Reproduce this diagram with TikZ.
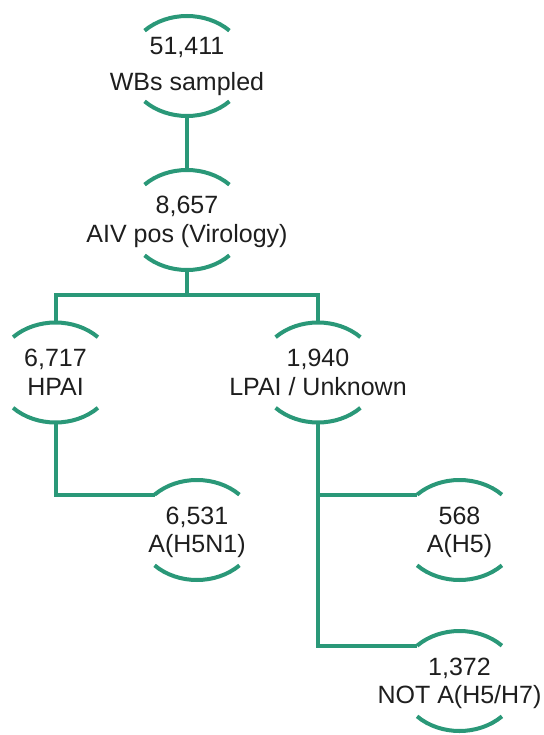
\documentclass[tikz,border=0pt]{standalone}
\usepackage{fontspec}
\setmainfont{Liberation Sans}
\usetikzlibrary{shapes.geometric,calc}
\definecolor{flowgreen}{RGB}{42,152,120}
\definecolor{inkgray}{RGB}{30,30,30}
\tikzset{
  blob/.style={ellipse, minimum width=120pt, minimum height=100pt, inner sep=0pt, outer sep=0pt, draw=none},
  arcline/.style={draw=flowgreen, line width=4pt},
  link/.style={draw=flowgreen, line width=4pt},
  lbl/.style={anchor=base, inner sep=0pt, text=inkgray, font=\fontsize{25}{30}\selectfont},
}
\newcommand\flowblob[7]{%
  \node[blob] (#1) at (#2,#3) {};
  \draw[arcline] ($(#1.center)+(135:60pt and 50pt)$) arc[start angle=135, end angle=45, x radius=60pt, y radius=50pt];
  \draw[arcline] ($(#1.center)+(225:60pt and 50pt)$) arc[start angle=225, end angle=315, x radius=60pt, y radius=50pt];
  \node[lbl] (#1-a) at ([yshift=#6]#1.center) {#4};
  \node[lbl] (#1-b) at ([yshift=#7]#1.center) {#5};
}
\begin{document}
\begin{tikzpicture}[x=1pt,y=-1pt]
\useasboundingbox (0,0) rectangle (543,735);
\flowblob{n1}{187}{66}{51,411}{WBs sampled}{11pt}{-25pt}
\flowblob{n2}{187}{220}{8,657}{AIV pos (Virology)}{6pt}{-22.5pt}
\flowblob{n3}{55.5}{372.5}{6,717}{HPAI}{6pt}{-22.5pt}
\flowblob{n4}{318}{372.5}{1,940}{LPAI / Unknown}{6pt}{-22.5pt}
\flowblob{n5}{197}{530}{6,531}{A(H5N1)}{6pt}{-22.5pt}
\flowblob{n6}{459.5}{530}{568}{A(H5)}{6pt}{-22.5pt}
\flowblob{n7}{459.5}{681}{1,372}{NOT A(H5/H7)}{6pt}{-22.5pt}
\coordinate (bus) at (187,294.5);
\coordinate (n5in) at ($(n5.center)+(135:60pt and 50pt)$);
\coordinate (n6in) at ($(n6.center)+(135:60pt and 50pt)$);
\coordinate (n7in) at ($(n7.center)+(135:60pt and 50pt)$);
\draw[link] (n1.south) -- (n2.north);
\draw[link] (n2.south) -- (bus);
\draw[link] (n3.north) |- (bus) -| (n4.north);
\draw[link] (n3.south) |- (n5in);
\draw[link] (n4.south) |- (n7in);
\draw[link] (n4.south |- n6in) -- (n6in);
\end{tikzpicture}
\end{document}
